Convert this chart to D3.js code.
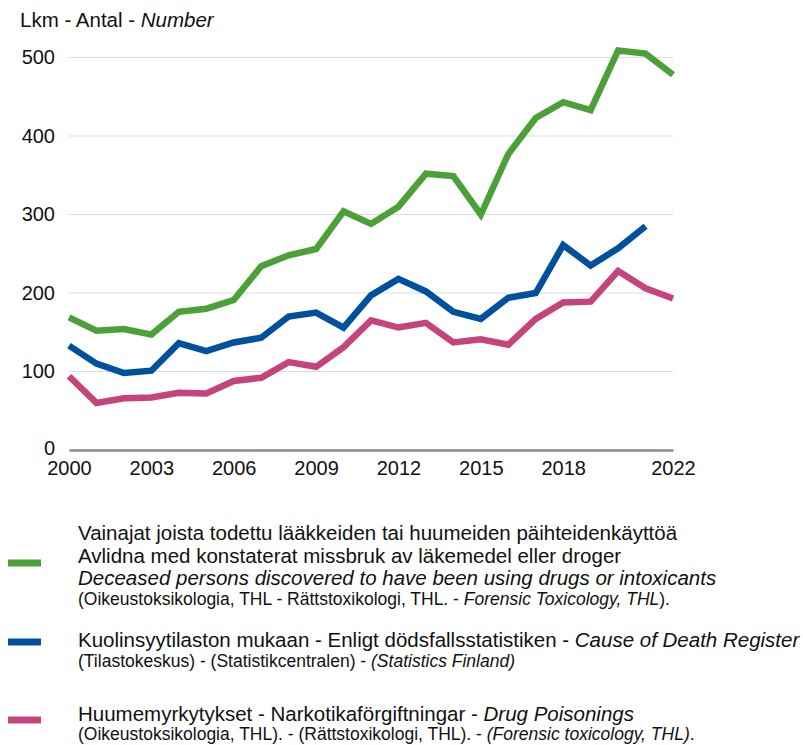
<!DOCTYPE html>
<html>
<head>
<meta charset="utf-8">
<script src="https://cdn.jsdelivr.net/npm/d3@7"></script>
<style>
  body { margin: 0; background: #fff; }
  svg { font-family: "Liberation Sans", Arial, Helvetica, sans-serif; }
</style>
</head>
<body>
<svg id="chart" width="803" height="745"></svg>
<script>
// years 2000-2022
var years = d3.range(2000, 2023);

var deceased = [169, 152, 154, 147, 176, 180, 191, 234, 248, 256, 304, 288, 310, 352, 349, 300, 377, 423, 443, 433, 509, 505, 478];
var causeOfDeath = [133, 110, 98, 101, 136, 126, 137, 143, 170, 175, 156, 197, 218, 202, 176, 167, 194, 200, 261, 235, 257, 285, null];
var poisonings = [94, 60, 66, 67, 73, 72, 88, 92, 112, 106, 131, 165, 156, 162, 137, 141, 134, 167, 188, 189, 228, 206, 193];

var yTicks = [0, 100, 200, 300, 400, 500];
var xTicks = [2000, 2003, 2006, 2009, 2012, 2015, 2018, 2022];

var svg = d3.select("#chart");

var x = d3.scaleLinear()
    .domain([2000, 2022])
    .range([69, 673]);

var y = d3.scaleLinear()
    .domain([0, 500])
    .range([450, 57.5]);

// title
var title = svg.append("text")
    .attr("x", 20)
    .attr("y", 27)
    .attr("font-size", 20.5)
    .attr("fill", "#111");
title.append("tspan").text("Lkm - Antal - ");
title.append("tspan").attr("font-style", "italic").text("Number");

// gridlines
svg.append("g")
    .selectAll("line")
    .data(yTicks.filter(function(d) { return d > 0; }))
    .enter().append("line")
    .attr("x1", x(2000))
    .attr("x2", x(2022))
    .attr("y1", function(d) { return y(d); })
    .attr("y2", function(d) { return y(d); })
    .attr("stroke", "#dcdcdc")
    .attr("stroke-width", 1);

// y axis labels
var yAxis = svg.append("g")
    .attr("transform", "translate(55,0)")
    .call(d3.axisLeft(y).tickValues(yTicks).tickSize(0).tickPadding(0));
yAxis.select(".domain").remove();
yAxis.selectAll("text")
    .attr("font-size", 20)
    .attr("font-family", "Liberation Sans, Arial, sans-serif")
    .attr("fill", "#111");
// lift the "0" a touch so it clears the 2000 label
yAxis.selectAll(".tick")
    .filter(function(d) { return d === 0; })
    .select("text")
    .attr("dy", "0.2em");

// x axis
var xAxis = svg.append("g")
    .attr("transform", "translate(0," + y(0) + ")")
    .call(d3.axisBottom(x).tickValues(xTicks).tickFormat(d3.format("d")).tickSize(0).tickPadding(11));
xAxis.select(".domain")
    .attr("stroke", "#8a8a8a")
    .attr("stroke-width", 2.5);
xAxis.selectAll("text")
    .attr("font-size", 20)
    .attr("font-family", "Liberation Sans, Arial, sans-serif")
    .attr("fill", "#111");

var series = [
    {name: "deceased", values: deceased, color: "#4ca038"},
    {name: "cause", values: causeOfDeath, color: "#00519d"},
    {name: "poison", values: poisonings, color: "#c4447b"}
];

var line = d3.line()
    .defined(function(d) { return d != null; })
    .x(function(d, i) { return x(years[i]); })
    .y(function(d) { return y(d); });

svg.append("g")
    .selectAll("path")
    .data(series)
    .enter().append("path")
    .attr("d", function(d) { return line(d.values); })
    .attr("fill", "none")
    .attr("stroke", function(d) { return d.color; })
    .attr("stroke-width", 6.5)
    .attr("stroke-linejoin", "miter");

// legend
var big = 20.5, small = 17.5;
var legend = [
    {color: "#4ca038", swatchY: 563, rows: [
        {y: 540, size: big, parts: [["Vainajat joista todettu lääkkeiden tai huumeiden päihteidenkäyttöä", false]]},
        {y: 563, size: big, parts: [["Avlidna med konstaterat missbruk av läkemedel eller droger", false]]},
        {y: 585, size: big, parts: [["Deceased persons discovered to have been using drugs or intoxicants", true]]},
        {y: 605, size: small, parts: [["(Oikeustoksikologia, THL - Rättstoxikologi, THL. - ", false], ["Forensic Toxicology, THL", true], [").", false]]}
    ]},
    {color: "#00519d", swatchY: 642, rows: [
        {y: 647, size: big, parts: [["Kuolinsyytilaston mukaan - Enligt dödsfallsstatistiken - ", false], ["Cause of Death Register", true]]},
        {y: 667, size: small, parts: [["(Tilastokeskus) - (Statistikcentralen) - ", false], ["(Statistics Finland)", true]]}
    ]},
    {color: "#c4447b", swatchY: 720, rows: [
        {y: 721, size: big, parts: [["Huumemyrkytykset - Narkotikaförgiftningar - ", false], ["Drug Poisonings", true]]},
        {y: 740, size: small, parts: [["(Oikeustoksikologia, THL). - (Rättstoxikologi, THL). - ", false], ["(Forensic toxicology, THL)", true], [".", false]]}
    ]}
];

var lg = svg.append("g").selectAll("g")
    .data(legend)
    .enter().append("g");

lg.append("rect")
    .attr("x", 8)
    .attr("y", function(d) { return d.swatchY - 3.5; })
    .attr("width", 33)
    .attr("height", 7)
    .attr("fill", function(d) { return d.color; });

lg.each(function(d) {
    var g = d3.select(this);
    d.rows.forEach(function(r) {
        var t = g.append("text")
            .attr("x", 78)
            .attr("y", r.y)
            .attr("font-size", r.size)
            .attr("fill", "#111");
        r.parts.forEach(function(p) {
            t.append("tspan")
                .attr("font-style", p[1] ? "italic" : "normal")
                .text(p[0]);
        });
    });
});
</script>
</body>
</html>
